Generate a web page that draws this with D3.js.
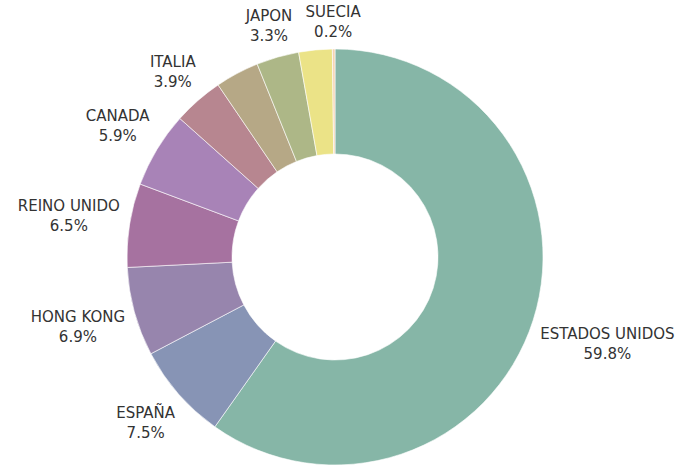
<!DOCTYPE html>
<html>
<head>
<meta charset="utf-8">
<script src="https://cdn.jsdelivr.net/npm/d3@7"></script>
<style>
  body { margin: 0; background: #fff; }
  text { font-family: "DejaVu Sans", sans-serif; font-size: 15px; fill: #333; }
</style>
</head>
<body>
<div id="chart-area"></div>
<script>
// Countries in slice order (clockwise from 12 o'clock)
// two labels are hidden in the original, their names are guesses
const countries = ["ESTADOS UNIDOS", "ESPAÑA", "HONG KONG", "REINO UNIDO", "CANADA",
                   "ITALIA", "FRANCIA", "JAPON", "ALEMANIA", "SUECIA"];
const shares = [59.8, 7.5, 6.9, 6.5, 5.9, 3.9, 3.4, 3.3, 2.6, 0.2];
const showLabel = [true, true, true, true, true, true, false, true, false, true];
const colors = ["#86b6a7", "#8794b5", "#9785ad", "#a672a0", "#a883b7",
                "#b78690", "#b6a886", "#adb787", "#ebe387", "#f5d3b3"];

const width = 689, height = 466;
const cx = 335, cy = 257;
const outerR = 208, innerR = 103;
const labelR = 216;

const svg = d3.select("#chart-area").append("svg")
    .attr("width", width)
    .attr("height", height);

const g = svg.append("g")
    .attr("transform", "translate(" + cx + "," + cy + ")");

let pie = d3.pie()
    .sort(null)
    .value(d => d.value);

let arc = d3.arc()
    .innerRadius(innerR)
    .outerRadius(outerR);

let data = countries.map((c, i) => ({name: c, value: shares[i], color: colors[i], label: showLabel[i]}));
let arcs = pie(data);

g.selectAll(".slice")
    .data(arcs)
    .enter().append("path")
    .attr("class", "slice")
    .attr("d", arc)
    .attr("fill", d => d.data.color)
    .attr("stroke", "#fff")
    .attr("stroke-width", 0.6);

// labels: box sits just outside the ring, pushed out along the slice mid angle
let labels = g.selectAll(".label")
    .data(arcs.filter(d => d.data.label))
    .enter().append("text")
    .attr("class", "label")
    .attr("text-anchor", "middle");

labels.append("tspan")
    .attr("x", 0)
    .text(d => d.data.name);
labels.append("tspan")
    .attr("x", 0)
    .attr("dy", 20)
    .text(d => d.data.value.toFixed(1) + "%");

labels.each(function(d) {
    let bb = this.getBBox();
    let a = (d.startAngle + d.endAngle) / 2;
    let ux = Math.sin(a), uy = -Math.cos(a);
    let hw = bb.width / 2, hh = bb.height / 2;
    let dist = labelR + Math.abs(ux) * hw + Math.abs(uy) * hh;
    let px = ux * dist, py = uy * dist;
    let ox = bb.x + hw, oy = bb.y + hh;
    d3.select(this).attr("transform", "translate(" + (px - ox) + "," + (py - oy) + ")");
});
</script>
</body>
</html>
